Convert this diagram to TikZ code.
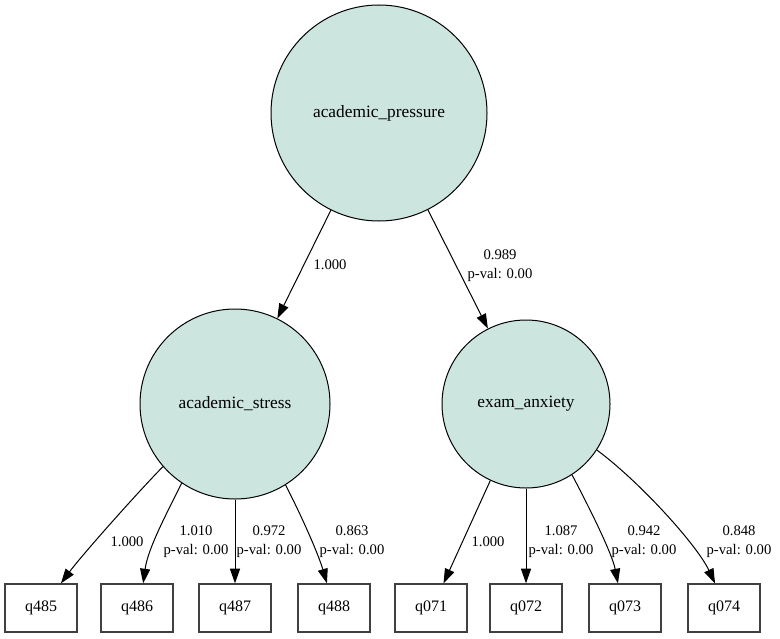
\documentclass[tikz,border=0pt]{standalone}
\usepackage{fontspec}
\setmainfont{Liberation Serif}
\usetikzlibrary{arrows.meta}
\definecolor{latentfill}{HTML}{CCE5DF}
\definecolor{boxgray}{HTML}{404040}

\begin{document}
\begin{tikzpicture}[x=0.75pt,y=-0.75pt,line width=0.75pt,
    latent/.style={circle,draw=black,fill=latentfill,inner sep=0,font=\latentfontsize},
    observed/.style={rectangle,draw=boxgray,line width=0.9pt,minimum width=\boxwidth*1pt,minimum height=\boxheight*1pt,inner sep=0,font=\boxfontsize},
    load/.style={-{Triangle[length=11pt,width=7.5pt]},black},
    est/.style={font=\labelfontsize,align=center,inner sep=0}]
    \pgfmathsetmacro{\topsize}{162}
    \pgfmathsetmacro{\stresssize}{142.5}
    \pgfmathsetmacro{\anxietysize}{126}
    \pgfmathsetmacro{\boxwidth}{54}
    \pgfmathsetmacro{\boxheight}{36}
    \pgfmathsetmacro{\boxrow}{608}
    \providecommand{\latentfontsize}{\fontsize{13}{15}\selectfont}
    \providecommand{\boxfontsize}{\fontsize{12}{14}\selectfont}
    \providecommand{\labelfontsize}{\fontsize{11}{14.25}\selectfont}
    \fill[white] (0,0) rectangle (780,638);
    \useasboundingbox (0,0) rectangle (780,638);
    % latent variables
    \node[latent,minimum size=\topsize*1pt] (pressure) at (379,113) {academic\_pressure};
    \node[latent,minimum size=\stresssize*1pt] (stress) at (235,404) {academic\_stress};
    \node[latent,minimum size=\anxietysize*1pt] (anxiety) at (526,404) {exam\_anxiety};
    % observed items
    \foreach \q/\x in {q485/41,q486/137,q487/235,q488/334,q071/431,q072/526,q073/625,q074/724}
        \node[observed] (\q) at (\x,\boxrow) {\q};
    % structural paths
    \draw[load] (pressure) -- (stress);
    \draw[load] (pressure) -- (anxiety);
    \node[est] (est-stress) at (330,265) {1.000};
    \node[est] (est-anxiety) at (500,266) {0.989\\p-val: 0.00};
    % loadings
    \draw[load] (stress.221.6) .. controls (138,492) and (82,555) .. (q485.51.6);
    \draw[load] (stress.236) .. controls (167,513) and (148,548) .. (q486.76);
    \draw[load] (stress.270) -- (q487.north);
    \draw[load] (stress.302) .. controls (301,515) and (318,553) .. (q488.106);
    \draw[load] (anxiety.245) -- (q071.63.4);
    \draw[load] (anxiety.270) -- (q072.north);
    \draw[load] (anxiety.303) .. controls (588,505) and (612,553) .. (q073.106);
    \draw[load] (anxiety.327) .. controls (640,482) and (697,545) .. (q074.110.6);
    \node[est] (est-q485) at (127,542) {1.000};
    \node[est] (est-q486) at (196,542) {1.010\\p-val: 0.00};
    \node[est] (est-q487) at (269,542) {0.972\\p-val: 0.00};
    \node[est] (est-q488) at (352,542) {0.863\\p-val: 0.00};
    \node[est] (est-q071) at (488,542) {1.000};
    \node[est] (est-q072) at (561,542) {1.087\\p-val: 0.00};
    \node[est] (est-q073) at (644,542) {0.942\\p-val: 0.00};
    \node[est] (est-q074) at (739,542) {0.848\\p-val: 0.00};
\end{tikzpicture}
\end{document}
